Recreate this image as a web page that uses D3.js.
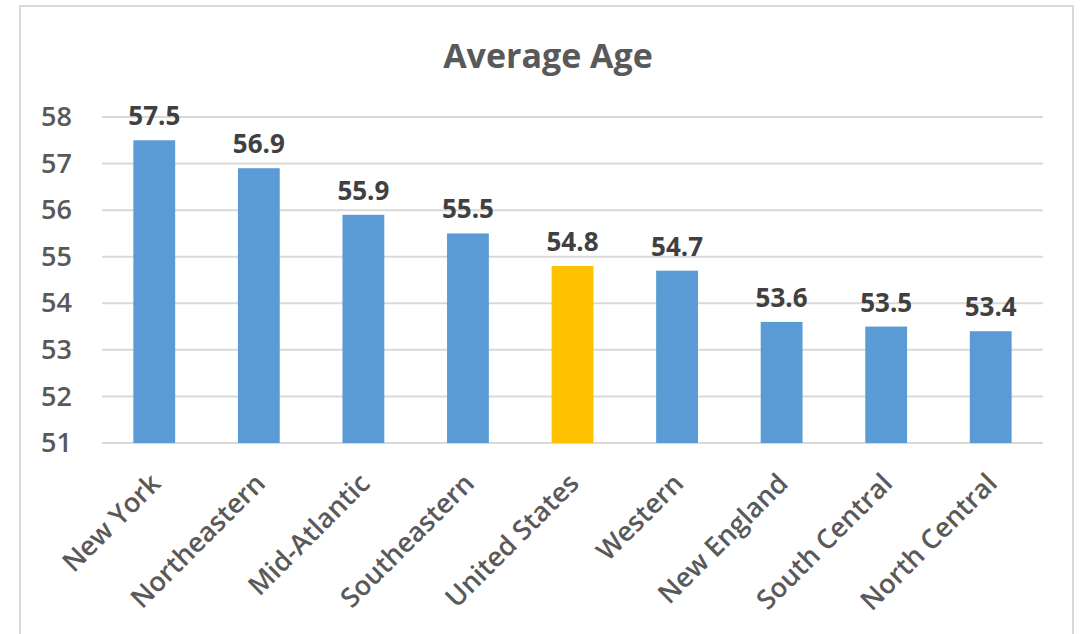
<!DOCTYPE html>
<html>
<head>
<meta charset="utf-8">
<script src="https://cdn.jsdelivr.net/npm/d3@7"></script>
<style>
  body { margin: 0; background: #fff; }
  text { font-family: 'Open Sans', sans-serif; }
</style>
</head>
<body>
<div id="chart"></div>
<script>
const categories = ["New York", "Northeastern", "Mid-Atlantic", "Southeastern", "United States", "Western", "New England", "South Central", "North Central"];
const values = [57.5, 56.9, 55.9, 55.5, 54.8, 54.7, 53.6, 53.5, 53.4];
const highlight = "United States";
const yTicks = [51, 52, 53, 54, 55, 56, 57, 58];

const W = 1081, H = 634;
const plotLeft = 102, plotRight = 1043, plotTop = 117, plotBottom = 443;

const svg = d3.select("#chart").append("svg")
  .attr("width", W)
  .attr("height", H);

// outer frame
svg.append("rect")
  .attr("x", 20).attr("y", 6)
  .attr("width", 1053).attr("height", 650)
  .attr("fill", "#fff")
  .attr("stroke", "#d9d9d9")
  .attr("stroke-width", 2);

const x = d3.scaleBand().domain(categories).range([plotLeft, plotRight]).paddingInner(0.6).paddingOuter(0.3);
const y = d3.scaleLinear().domain([51, 58]).range([plotBottom, plotTop]);

// gridlines
svg.append("g")
  .selectAll("line")
  .data(yTicks)
  .join("line")
  .attr("x1", plotLeft).attr("x2", plotRight)
  .attr("y1", d => y(d)).attr("y2", d => y(d))
  .attr("stroke", "#d9d9d9")
  .attr("stroke-width", 2);

// y axis labels
const yAxis = d3.axisLeft(y).tickValues(yTicks).tickFormat(d3.format("d")).tickSize(0).tickPadding(30);
svg.append("g")
  .attr("transform", `translate(${plotLeft},0)`)
  .call(yAxis)
  .call(g => g.select(".domain").remove())
  .call(g => g.selectAll("text")
    .attr("fill", "#595959")
    .style("font-size", "27px")
    .style("font-weight", "600")
    .style("font-family", "'Open Sans', sans-serif"));

// x axis labels
const xAxis = d3.axisBottom(x).tickSize(0).tickPadding(0);
svg.append("g")
  .attr("transform", `translate(0,${plotBottom})`)
  .call(xAxis)
  .call(g => g.select(".domain").remove())
  .call(g => g.selectAll("text")
    .attr("fill", "#595959")
    .style("font-size", "27px")
    .style("font-weight", "600")
    .style("font-family", "'Open Sans', sans-serif")
    .attr("text-anchor", "end")
    .attr("dy", null)
    .attr("y", 0)
    .attr("transform", "translate(8,42) rotate(-45)"));

// bars
svg.append("g")
  .selectAll("rect")
  .data(values)
  .join("rect")
  .attr("x", (d, i) => x(categories[i]))
  .attr("y", d => y(d))
  .attr("width", x.bandwidth())
  .attr("height", d => plotBottom - y(d))
  .attr("fill", (d, i) => categories[i] === highlight ? "#FFC000" : "#5B9BD5");

// value labels
svg.append("g")
  .selectAll("text")
  .data(values)
  .join("text")
  .attr("x", (d, i) => x(categories[i]) + x.bandwidth() / 2)
  .attr("y", d => y(d) - 15)
  .attr("text-anchor", "middle")
  .attr("fill", "#404040")
  .style("font-size", "26px")
  .style("font-weight", "bold")
  .text(d => d.toFixed(1));

// title
svg.append("text")
  .attr("x", 548).attr("y", 68)
  .attr("text-anchor", "middle")
  .attr("fill", "#595959")
  .style("font-size", "34px")
  .style("font-weight", "bold")
  .text("Average Age");
</script>
</body>
</html>
